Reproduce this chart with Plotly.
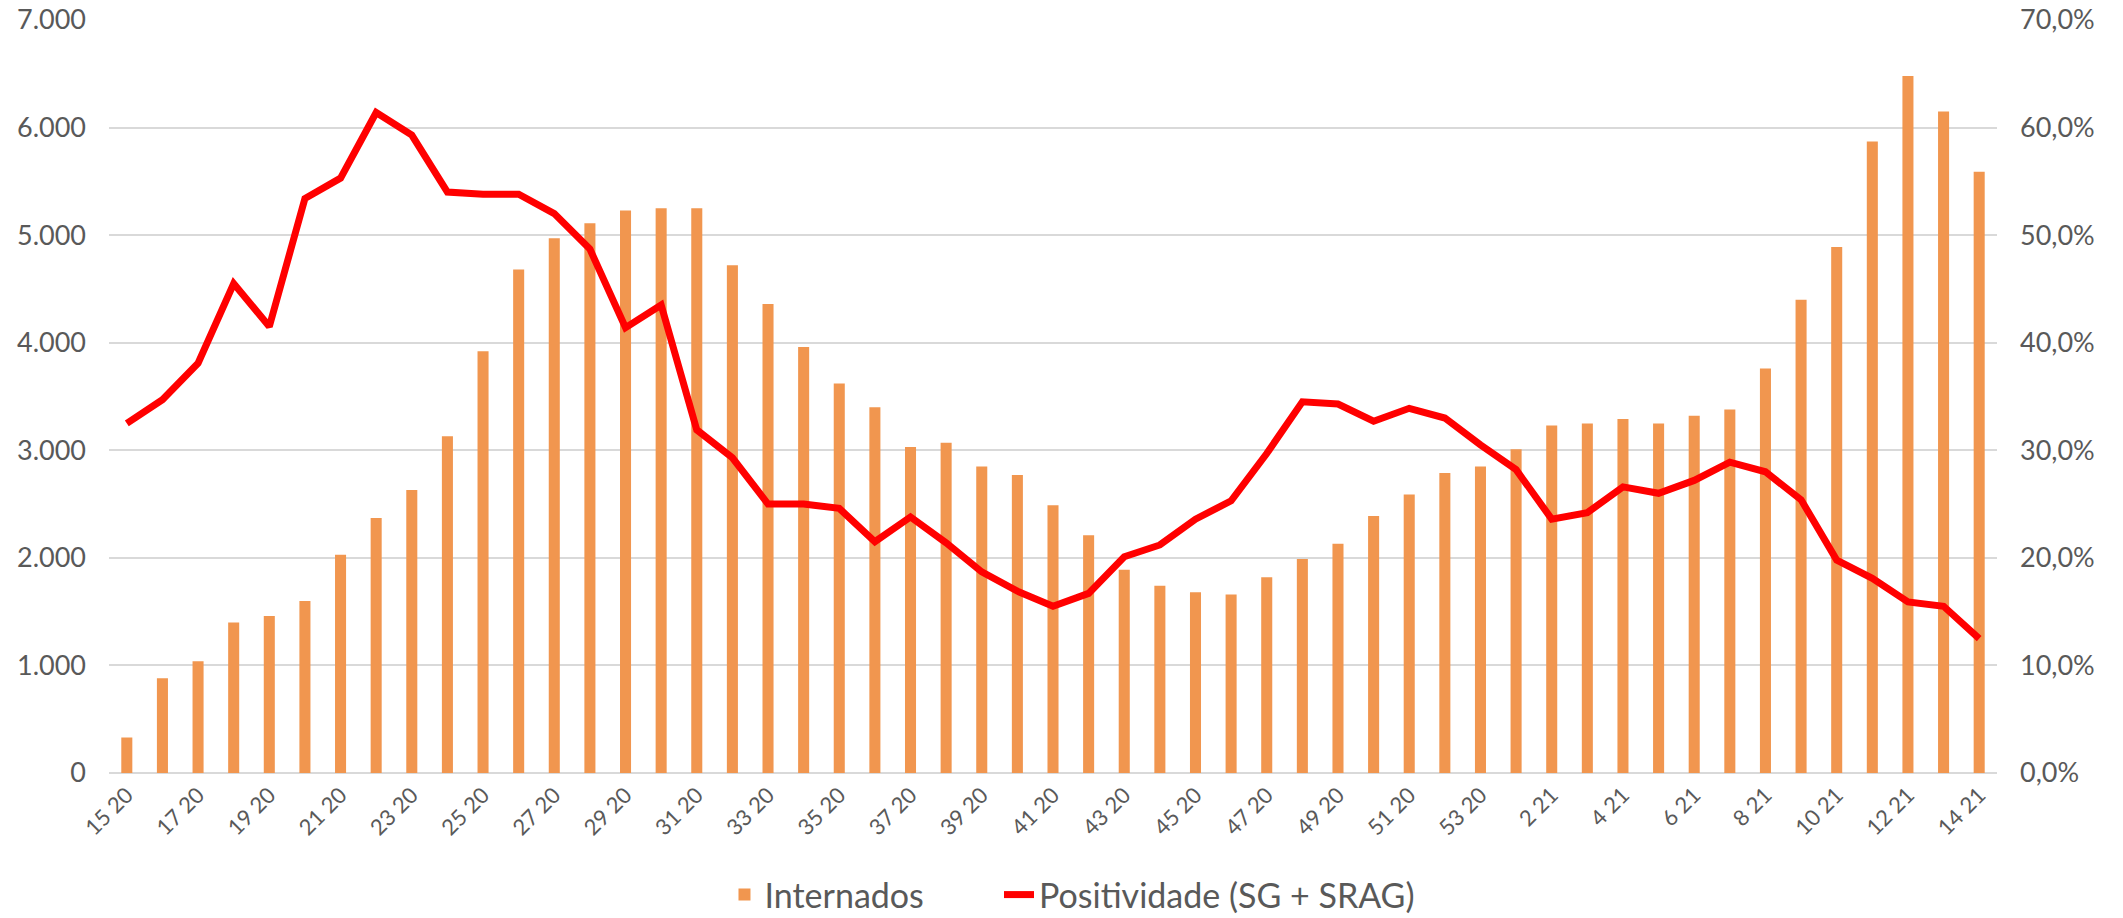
import plotly.graph_objects as go

semanas = ["15 20", "16 20", "17 20", "18 20", "19 20", "20 20", "21 20", "22 20", "23 20", "24 20",
           "25 20", "26 20", "27 20", "28 20", "29 20", "30 20", "31 20", "32 20", "33 20", "34 20",
           "35 20", "36 20", "37 20", "38 20", "39 20", "40 20", "41 20", "42 20", "43 20", "44 20",
           "45 20", "46 20", "47 20", "48 20", "49 20", "50 20", "51 20", "52 20", "53 20",
           "1 21", "2 21", "3 21", "4 21", "5 21", "6 21", "7 21", "8 21", "9 21", "10 21",
           "11 21", "12 21", "13 21", "14 21"]

internados = [330, 880, 1040, 1400, 1460, 1600, 2030, 2370, 2630, 3130,
              3920, 4680, 4970, 5110, 5230, 5250, 5250, 4720, 4360, 3960,
              3620, 3400, 3030, 3070, 2850, 2770, 2490, 2210, 1890, 1740,
              1680, 1660, 1820, 1990, 2130, 2390, 2590, 2790, 2850,
              3010, 3230, 3250, 3290, 3250, 3320, 3380, 3760, 4400, 4890,
              5870, 6480, 6150, 5590]

positividade_pct = [32.5, 34.7, 38.1, 45.5, 41.5, 53.4, 55.3, 61.4, 59.3, 54.0,
                    53.8, 53.8, 52.0, 48.7, 41.4, 43.5, 31.9, 29.3, 25.0, 25.0,
                    24.6, 21.5, 23.8, 21.4, 18.7, 16.9, 15.5, 16.7, 20.1, 21.2,
                    23.6, 25.3, 29.7, 34.5, 34.3, 32.7, 33.9, 33.0, 30.5,
                    28.2, 23.6, 24.2, 26.6, 26.0, 27.2, 28.9, 28.0, 25.4, 19.8,
                    18.1, 15.9, 15.5, 12.5]

tick_labels = semanas[::2]

positividade = [v / 100 for v in positividade_pct]

FONT = "Lato, Roboto, sans-serif"
GREY = "#595959"
GRID = "#d9d9d9"

fig = go.Figure()
fig.add_trace(go.Bar(
    x=semanas, y=internados, name="Internados",
    marker=dict(color="#F1964F", line=dict(width=0)),
    width=0.31, yaxis="y", legend="legend",
))
fig.add_trace(go.Scatter(
    x=semanas, y=positividade, name="Positividade (SG + SRAG)",
    mode="lines", line=dict(color="#FF0000", width=7),
    yaxis="y2", legend="legend2",
))

legend_common = dict(
    orientation="h", yref="paper", y=-0.162, yanchor="middle", xanchor="left",
    font=dict(size=34, color=GREY, family=FONT),
    itemwidth=30, bgcolor="rgba(0,0,0,0)",
)

fig.update_layout(
    width=2123, height=918,
    margin=dict(l=109, r=126, t=20, b=145, autoexpand=False),
    paper_bgcolor="white", plot_bgcolor="white",
    separators=",.",
    font=dict(family=FONT, color=GREY),
    showlegend=True,
    legend=dict(x=0.326, **legend_common),
    legend2=dict(x=0.4714, **legend_common),
    xaxis=dict(
        type="category", tickmode="array", tickvals=tick_labels, ticktext=tick_labels,
        tickangle=-45, tickfont=dict(size=22, color=GREY),
        showgrid=False, showline=False, ticks="", automargin=False,
        range=[-0.5, len(semanas) - 0.5], ticklabelstandoff=4,
        ticklabeloverflow="allow",
    ),
    yaxis=dict(
        range=[0, 7000], dtick=1000, tickformat=",d",
        tickfont=dict(size=27, color=GREY),
        showgrid=True, gridcolor=GRID, gridwidth=2,
        zeroline=True, zerolinecolor=GRID, zerolinewidth=2,
        showline=False, ticks="", ticklabelstandoff=22, automargin=False,
        ticklabeloverflow="allow",
    ),
    yaxis2=dict(
        range=[0, 0.7], dtick=0.1, tickformat=".1%",
        overlaying="y", side="right",
        tickfont=dict(size=27, color=GREY),
        showgrid=False, zeroline=False, showline=False, ticks="",
        ticklabelstandoff=22, automargin=False,
        ticklabeloverflow="allow",
    ),
)

# remove the browser's default 8px body margin so the figure fills the window exactly
fig.write_html(
    "out.html",
    config={"displayModeBar": False},
    post_script="document.body.style.margin='0';",
)
